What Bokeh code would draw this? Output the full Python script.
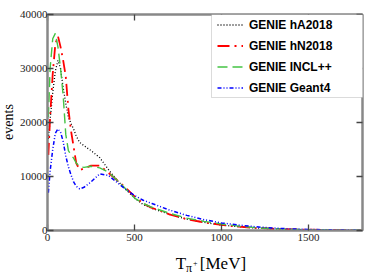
import math
from bokeh.plotting import figure
from bokeh.layouts import row, column
from bokeh.models import (Range1d, LinearAxis, FixedTicker, Legend, LegendItem,
                          BoxAnnotation, BasicTickFormatter)
from bokeh.core.properties import value
from bokeh.embed import file_html
from bokeh.resources import INLINE

# ---- data ----
energy = [5, 15, 30, 45, 60, 75, 90, 105, 120, 135, 150, 165, 185, 210, 250, 300,
          350, 400, 450, 500, 550, 600, 700, 800, 900, 1000, 1100, 1200, 1300,
          1400, 1500, 1600, 1700, 1800]

ha2018 = [17000, 20500, 25500, 29500, 31500, 30000, 26500, 23500, 21000, 19800,
          18800, 17500, 16300, 15700, 14800, 13500, 11300, 9300, 7600, 6000,
          4800, 4100, 3000, 2100, 1500, 1000, 700, 450, 300, 190, 120, 80, 50, 30]

hn2018 = [14000, 21000, 29000, 34500, 36000, 34000, 31500, 28500, 22500, 18500,
          15500, 12500, 11200, 11500, 12000, 12000, 10700, 9300, 7900, 6300,
          5000, 4200, 3000, 2100, 1500, 1050, 700, 470, 320, 210, 140, 90, 55, 35]

inclpp = [21000, 30000, 35500, 36500, 34000, 30000, 25000, 17800, 14800, 14000,
          13400, 12500, 11800, 11700, 11900, 11600, 10800, 9300, 7700, 6000,
          5000, 4300, 3200, 2300, 1700, 1200, 800, 520, 340, 220, 140, 90, 55, 35]

geant4 = [7000, 11000, 15000, 18000, 18800, 18200, 16500, 13800, 11800, 10300,
          9000, 8200, 7700, 8000, 9000, 10500, 10200, 8900, 7600, 6500,
          5600, 5000, 3800, 2800, 2000, 1400, 1000, 680, 450, 300, 200, 130, 80, 50]

series_labels = ["GENIE hA2018", "GENIE hN2018", "GENIE INCL++", "GENIE Geant4"]
x_ticks = [0, 500, 1000, 1500]
y_ticks = [0, 10000, 20000, 30000, 40000]
y_title = "events"
x_title_parts = ["T", "π", "+", "[MeV]"]

# ---- layout sizes (pixels) ----
LEFT_W = 16
MAIN_W = 366
MAIN_H = 248
TOTAL_H = 274
BOTTOM_H = TOTAL_H - MAIN_H

# ---- main figure ----
p = figure(width=MAIN_W, height=MAIN_H, output_backend="svg", toolbar_location=None,
           x_range=Range1d(0, 1810), y_range=Range1d(0, 40000),
           min_border_left=30, min_border_right=20, min_border_top=14,
           min_border_bottom=18)
p.xgrid.visible = False
p.ygrid.visible = False
p.outline_line_color = "#888888"
p.outline_line_width = 2
p.background_fill_color = "white"
p.border_fill_color = "white"

def style_axis(ax, ticks, show_labels, standoff):
    ax.ticker = FixedTicker(ticks=ticks)
    ax.major_tick_in = 6
    ax.major_tick_out = 0
    ax.minor_tick_in = 0
    ax.minor_tick_out = 0
    ax.axis_line_color = "#888888"
    ax.axis_line_width = 2
    ax.major_tick_line_color = "#444444"
    ax.major_tick_line_width = 1.3
    ax.major_label_standoff = standoff
    ax.formatter = BasicTickFormatter(use_scientific=False)
    if show_labels:
        ax.major_label_text_font = "Liberation Serif"
        ax.major_label_text_font_size = "11px"
        ax.major_label_text_color = "#222222"
    else:
        ax.major_label_overrides = {t: "" for t in ticks}
        ax.major_label_text_font_size = "0px"

style_axis(p.xaxis[0], x_ticks, True, 3)
style_axis(p.yaxis[0], y_ticks, True, 0)

top_ax = LinearAxis()
style_axis(top_ax, x_ticks, False, 0)
p.add_layout(top_ax, "above")
right_ax = LinearAxis()
style_axis(right_ax, y_ticks, False, 0)
p.add_layout(right_ax, "right")

# ---- curves ----
r1 = p.line(energy, ha2018, line_color="black", line_width=1.3, line_dash="1 2")
r2 = p.line(energy, hn2018, line_color="#ff0000", line_width=1.8, line_dash="12 5 2 5")
r3 = p.line(energy, inclpp, line_color="#44c444", line_width=1.4, line_dash="10 5")
r4 = p.line(energy, geant4, line_color="#0000ff", line_width=1.5, line_dash="4 2 1 2 1 2")

# ---- legend box + legend ----
box = BoxAnnotation(left=164, right=316, bottom=133, top=216,
                    left_units="screen", right_units="screen",
                    top_units="screen", bottom_units="screen",
                    fill_color="white", fill_alpha=1.0,
                    line_color="#888888", line_width=1)
p.add_layout(box)

legend = Legend(items=[LegendItem(label=series_labels[0], renderers=[r1]),
                       LegendItem(label=series_labels[1], renderers=[r2]),
                       LegendItem(label=series_labels[2], renderers=[r3]),
                       LegendItem(label=series_labels[3], renderers=[r4])],
                location=(169, 132), padding=1, spacing=2,
                label_height=19, glyph_height=19, glyph_width=26,
                label_standoff=6, margin=0,
                label_text_font="Liberation Sans", label_text_font_style="bold",
                label_text_font_size="12px", label_text_color="black",
                border_line_alpha=0, background_fill_alpha=0)
p.add_layout(legend)

def blank_fig(w, h):
    f = figure(width=w, height=h, output_backend="svg", toolbar_location=None,
               x_range=Range1d(0, w), y_range=Range1d(0, h),
               x_axis_type=None, y_axis_type=None,
               min_border_left=0, min_border_right=0, min_border_top=0,
               min_border_bottom=0)
    f.xgrid.visible = False
    f.ygrid.visible = False
    f.outline_line_color = None
    f.background_fill_color = "white"
    f.border_fill_color = "white"
    return f

# ---- y title strip ----
pl = blank_fig(LEFT_W, TOTAL_H)
pl.text(x=[LEFT_W / 2], y=[TOTAL_H - 121.5], text=[y_title], angle=math.pi / 2,
        text_font=value("Liberation Serif"), text_font_size="14px",
        text_align="center", text_baseline="middle", text_color="black")

# ---- x title strip ----
pb = blank_fig(MAIN_W, BOTTOM_H)
base = BOTTOM_H - 15
pb.text(x=[149], y=[base], text=[x_title_parts[0]],
        text_font=value("Liberation Serif"), text_font_size="17px",
        text_align="left", text_baseline="alphabetic", text_color="black")
pb.text(x=[161], y=[base - 4], text=[x_title_parts[1]],
        text_font=value("Liberation Serif"), text_font_size="12px",
        text_align="left", text_baseline="alphabetic", text_color="black")
pb.text(x=[169], y=[base + 0.5], text=[x_title_parts[2]],
        text_font=value("Liberation Serif"), text_font_size="8px",
        text_align="left", text_baseline="alphabetic", text_color="black")
pb.text(x=[177], y=[base], text=[x_title_parts[3]],
        text_font=value("Liberation Serif"), text_font_size="17px",
        text_align="left", text_baseline="alphabetic", text_color="black")

layout = row(pl, column(p, pb))
open("out.html", "w").write(file_html(layout, INLINE))
